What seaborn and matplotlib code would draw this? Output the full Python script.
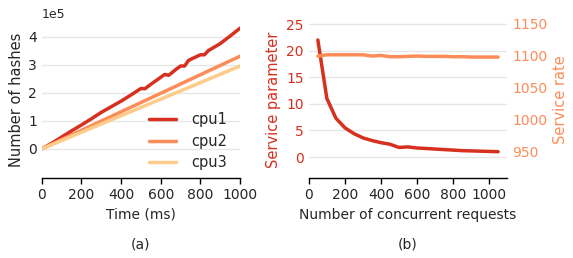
import numpy as np
import pandas as pd
import seaborn as sns
import matplotlib.pyplot as plt

# panel (a): hashes over time
time_ms = [0, 50, 100, 150, 200, 250, 300, 350, 400, 450, 500, 520, 550, 600, 620, 640,
           680, 700, 720, 740, 760, 800, 820, 840, 900, 950, 1000]
cpu1 = [0, 0.2, 0.42, 0.64, 0.85, 1.07, 1.3, 1.5, 1.7, 1.92, 2.15, 2.14, 2.3, 2.55, 2.65, 2.62,
        2.85, 2.95, 2.95, 3.15, 3.22, 3.35, 3.35, 3.5, 3.75, 4.02, 4.3]
cpu2 = [0, 0.165, 0.33, 0.495, 0.66, 0.825, 0.99, 1.155, 1.32, 1.485, 1.65, 1.716, 1.815, 1.98,
        2.046, 2.112, 2.244, 2.31, 2.376, 2.442, 2.508, 2.64, 2.706, 2.772, 2.97, 3.135, 3.3]
cpu3 = [0, 0.1475, 0.295, 0.4425, 0.59, 0.7375, 0.885, 1.0325, 1.18, 1.3275, 1.475, 1.534,
        1.6225, 1.77, 1.829, 1.888, 2.006, 2.065, 2.124, 2.183, 2.242, 2.36, 2.419, 2.478,
        2.655, 2.8025, 2.95]

# panel (b): service parameter / rate vs concurrency
requests = [50, 100, 150, 200, 250, 300, 350, 400, 450, 500, 550, 600, 650, 700, 750,
            800, 850, 900, 950, 1000, 1050]
service_param = [22, 11, 7.3, 5.5, 4.4, 3.6, 3.1, 2.7, 2.4, 1.8, 1.9, 1.7, 1.6, 1.5, 1.4,
                 1.3, 1.2, 1.15, 1.1, 1.05, 1.0]
service_rate = [1099, 1101, 1101, 1101, 1101, 1101, 1099, 1100, 1098, 1098, 1098.5, 1099,
                1098.5, 1098.5, 1098.5, 1098, 1098, 1097.5, 1097.5, 1097.5, 1097.5]

red, orange, light = "#d7301f", "#fc8d59", "#fdcc8a"

sns.set_theme(style="whitegrid")
plt.rcParams["font.family"] = ["DejaVu Sans"]

fig = plt.figure(figsize=(5.73, 2.58), dpi=100)
ax1 = fig.add_axes([0.073, 0.31, 0.346, 0.606])
ax2 = fig.add_axes([0.539, 0.31, 0.346, 0.606])

df = pd.DataFrame({"t": time_ms, "cpu1": np.array(cpu1) * 1e5,
                   "cpu2": np.array(cpu2) * 1e5, "cpu3": np.array(cpu3) * 1e5})
for name, c in zip(["cpu1", "cpu2", "cpu3"], [red, orange, light]):
    sns.lineplot(data=df, x="t", y=name, ax=ax1, color=c, lw=2.5, label=name)
ax1.set_xlim(0, 1000)
ax1.set_ylim(-1.04e5, 4.53e5)
ax1.set_xticks([0, 200, 400, 600, 800, 1000])
ax1.set_yticks([0, 1e5, 2e5, 3e5, 4e5])
ax1.ticklabel_format(axis="y", style="sci", scilimits=(0, 0))
ax1.yaxis.get_offset_text().set_fontsize(9)
ax1.set_xlabel("Time (ms)", fontsize=10)
ax1.set_ylabel("Number of hashes", fontsize=10.5, labelpad=3)
ax1.legend(loc="lower right", bbox_to_anchor=(1.0, -0.035), frameon=False, fontsize=10.5,
           handlelength=1.9, handletextpad=1.0, labelspacing=0.45)
ax1.text(0.5, -0.45, "(a)", transform=ax1.transAxes, ha="center", fontsize=10)

sns.lineplot(x=requests, y=service_param, ax=ax2, color=red, lw=2.5)
ax2.set_xlim(0, 1100)
ax2.set_ylim(-3.95, 25.45)
ax2.set_xticks([0, 200, 400, 600, 800, 1000])
ax2.set_yticks([0, 5, 10, 15, 20, 25])
ax2.set_xlabel("Number of concurrent requests", fontsize=10)
ax2.set_ylabel("Service parameter", color=red, fontsize=10.5)
ax2.tick_params(axis="y", colors=red)
ax2.text(0.5, -0.45, "(b)", transform=ax2.transAxes, ha="center", fontsize=10)

ax3 = ax2.twinx()
sns.lineplot(x=requests, y=service_rate, ax=ax3, color=orange, lw=2.5)
ax3.set_ylim(909, 1152.6)
ax3.set_yticks([950, 1000, 1050, 1100, 1150])
ax3.set_ylabel("Service rate", color=orange, fontsize=10.5)
ax3.tick_params(axis="y", colors=orange)
ax3.grid(False)

for ax in (ax1, ax2, ax3):
    for s in ["left", "right", "top"]:
        ax.spines[s].set_visible(False)
    ax.tick_params(axis="y", length=0, labelsize=10)
    ax.grid(axis="x", visible=False)
for ax in (ax1, ax2):
    ax.spines["bottom"].set_color("black")
    ax.spines["bottom"].set_linewidth(1)
    ax.tick_params(axis="x", bottom=True, length=4, width=1, color="black", labelsize=10)
    ax.grid(axis="y", color="#e6e6e6", lw=1)
ax3.spines["bottom"].set_visible(False)

fig.savefig("out.png", dpi=100)
